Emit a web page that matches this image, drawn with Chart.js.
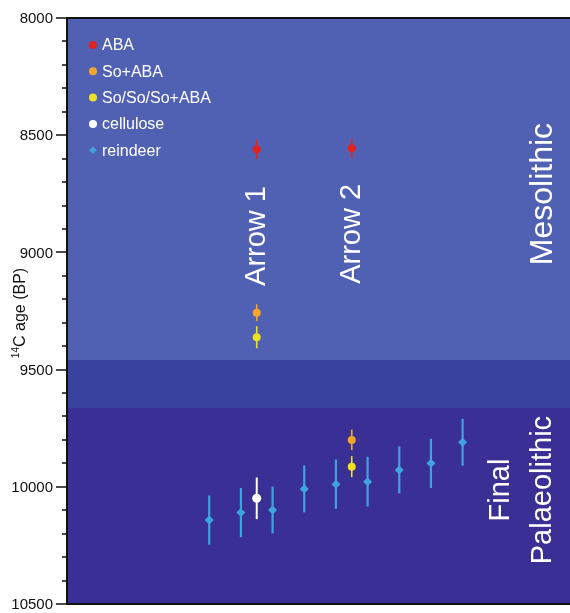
<!DOCTYPE html>
<html>
<head>
<meta charset="utf-8">
<script src="https://cdn.jsdelivr.net/npm/chart.js@4.4.1/dist/chart.umd.min.js"></script>
<style>
    html, body { margin: 0; padding: 0; background: #ffffff; }
</style>
</head>
<body>
<canvas id="ageChart" width="570" height="613"></canvas>
<script>
// ===== DATA =====
// x = position along the sequence, age = 14C age (BP), err = 1 sigma
const abaX = [2.5, 5.5];
const abaAge = [8560, 8556];
const abaErr = [41, 41];

const soAbaX = [2.5, 5.5];
const soAbaAge = [9257, 9800];
const soAbaErr = [36, 44];

const soSoX = [2.5, 5.5];
const soSoAge = [9362, 9914];
const soSoErr = [47, 45];

const celluloseX = [2.5];
const celluloseAge = [10049];
const celluloseErr = [89];

const reindeerX = [1, 2, 3, 4, 5, 6, 7, 8, 9];
const reindeerAge = [10142, 10110, 10099, 10009, 9989, 9978, 9928, 9900, 9810];
const reindeerErr = [105, 105, 100, 100, 105, 106, 100, 105, 100];

// axis tick labels
const yTickLabels = [8000, 8500, 9000, 9500, 10000, 10500];

// period boundaries on the age axis
const bandEdges = [8000, 9460, 9665, 10500];
const bandColors = ["#5061b3", "#39439f", "#392f94"];

const yMin = 8000;
const yMax = 10500;

const FONT = '"Liberation Sans", Arial, Helvetica, sans-serif';

function pts(xs, ys) {
    return xs.map((x, i) => ({ x: x, y: ys[i] }));
}

const datasets = [
    { label: "ABA", data: pts(abaX, abaAge), errors: abaErr, color: "#e3221f", pointStyle: "circle", pointRadius: 4, barWidth: 1.6 },
    { label: "So+ABA", data: pts(soAbaX, soAbaAge), errors: soAbaErr, color: "#f5a62a", pointStyle: "circle", pointRadius: 4, barWidth: 1.6 },
    { label: "So/So/So+ABA", data: pts(soSoX, soSoAge), errors: soSoErr, color: "#ece21f", pointStyle: "circle", pointRadius: 4, barWidth: 1.6 },
    { label: "cellulose", data: pts(celluloseX, celluloseAge), errors: celluloseErr, color: "#ffffff", pointStyle: "circle", pointRadius: 4.5, barWidth: 2 },
    { label: "reindeer", data: pts(reindeerX, reindeerAge), errors: reindeerErr, color: "#3fa4dc", pointStyle: "rectRot", pointRadius: 4.5, barWidth: 2.2 }
].map(d => Object.assign(d, {
    backgroundColor: d.color,
    borderColor: d.color,
    borderWidth: 0,
    pointHoverRadius: d.pointRadius
}));

// ===== BACKGROUND BANDS =====
const bandsPlugin = {
    id: "bands",
    beforeDatasetsDraw(chart) {
        const { ctx, chartArea: a, scales: { y } } = chart;
        ctx.save();
        for (let i = 0; i < bandColors.length; i++) {
            const top = Math.round(y.getPixelForValue(bandEdges[i]));
            const bottom = Math.round(y.getPixelForValue(bandEdges[i + 1]));
            ctx.fillStyle = bandColors[i];
            ctx.fillRect(a.left, top, a.right - a.left, bottom - top);
        }
        ctx.restore();
    }
};

// ===== ERROR BARS =====
const errorBarsPlugin = {
    id: "errorBars",
    beforeDatasetsDraw(chart) {
        const { ctx, scales: { x, y } } = chart;
        ctx.save();
        chart.data.datasets.forEach(ds => {
            ctx.strokeStyle = ds.color;
            ctx.lineWidth = ds.barWidth;
            ds.data.forEach((p, i) => {
                const px = x.getPixelForValue(p.x);
                ctx.beginPath();
                ctx.moveTo(px, y.getPixelForValue(p.y - ds.errors[i]));
                ctx.lineTo(px, y.getPixelForValue(p.y + ds.errors[i]));
                ctx.stroke();
            });
        });
        ctx.restore();
    }
};

// ===== TEXT, LEGEND, FRAME =====
function rotatedText(ctx, lines, cx, cy, size, gap) {
    ctx.save();
    ctx.translate(cx, cy);
    ctx.rotate(-Math.PI / 2);
    ctx.font = size + "px " + FONT;
    ctx.fillStyle = "#ffffff";
    ctx.textAlign = "center";
    ctx.textBaseline = "middle";
    const offset = (lines.length - 1) * gap / 2;
    lines.forEach((t, i) => ctx.fillText(t, 0, i * gap - offset));
    ctx.restore();
}

const overlayPlugin = {
    id: "overlay",
    afterDatasetsDraw(chart) {
        const { ctx, chartArea: a, scales: { x, y } } = chart;

        // labels inside the plot
        rotatedText(ctx, ["Arrow 1"], x.getPixelForValue(2.5), y.getPixelForValue(8930), 29, 0);
        rotatedText(ctx, ["Arrow 2"], x.getPixelForValue(5.5), y.getPixelForValue(8921), 29, 0);
        rotatedText(ctx, ["Mesolithic"], x.getPixelForValue(11.54), y.getPixelForValue(8751), 32, 0);
        rotatedText(ctx, ["Final", "Palaeolithic"], x.getPixelForValue(10.87), y.getPixelForValue(10014), 29, 42);

        // legend
        ctx.save();
        ctx.font = "16px " + FONT;
        ctx.textBaseline = "middle";
        chart.data.datasets.forEach((ds, i) => {
            const ly = a.top + 27 + i * 26.3;
            const lx = a.left + 26;
            ctx.fillStyle = ds.color;
            ctx.beginPath();
            if (ds.pointStyle === "rectRot") {
                ctx.moveTo(lx, ly - 3.8);
                ctx.lineTo(lx + 3.8, ly);
                ctx.lineTo(lx, ly + 3.8);
                ctx.lineTo(lx - 3.8, ly);
                ctx.closePath();
            } else {
                ctx.arc(lx, ly, 4, 0, Math.PI * 2);
            }
            ctx.fill();
            ctx.fillStyle = "#ffffff";
            ctx.fillText(ds.label, lx + 9, ly + 1);
        });
        ctx.restore();

        // frame, ticks and tick labels
        ctx.save();
        ctx.strokeStyle = "#111111";
        ctx.lineWidth = 2;
        ctx.beginPath();
        ctx.moveTo(a.right, a.top);
        ctx.lineTo(a.left, a.top);
        ctx.lineTo(a.left, a.bottom);
        ctx.lineTo(a.right, a.bottom);
        ctx.stroke();
        ctx.lineWidth = 1.5;
        for (let v = yMin; v <= yMax; v += 100) {
            const py = Math.round(y.getPixelForValue(v));
            const len = v % 500 === 0 ? 11 : 5;
            ctx.beginPath();
            ctx.moveTo(a.left - len, py);
            ctx.lineTo(a.left, py);
            ctx.stroke();
        }
        ctx.fillStyle = "#111111";
        ctx.font = "15px " + FONT;
        ctx.textAlign = "right";
        ctx.textBaseline = "middle";
        yTickLabels.forEach(v => {
            ctx.fillText(String(v), a.left - 14, y.getPixelForValue(v) + 1);
        });
        ctx.restore();

        // y title with superscript
        ctx.save();
        ctx.translate(25, 313);
        ctx.rotate(-Math.PI / 2);
        ctx.fillStyle = "#111111";
        ctx.textBaseline = "alphabetic";
        ctx.textAlign = "left";
        ctx.font = "10px " + FONT;
        const supW = ctx.measureText("14").width;
        ctx.font = "16px " + FONT;
        const mainW = ctx.measureText("C age (BP)").width;
        const start = -(supW + mainW) / 2;
        ctx.font = "10px " + FONT;
        ctx.fillText("14", start, -6);
        ctx.font = "16px " + FONT;
        ctx.fillText("C age (BP)", start + supW, 0);
        ctx.restore();
    }
};

// ===== CHART =====
new Chart(document.getElementById("ageChart"), {
    type: "scatter",
    data: { datasets: datasets },
    options: {
        responsive: false,
        devicePixelRatio: 1,
        animation: false,
        layout: { autoPadding: false, padding: { top: 18, bottom: 9, left: 0, right: 0 } },
        plugins: {
            legend: { display: false },
            tooltip: { enabled: false }
        },
        scales: {
            x: {
                type: "linear",
                display: false,
                min: -3.49,
                max: 12.39
            },
            y: {
                type: "linear",
                reverse: true,
                min: yMin,
                max: yMax,
                afterFit(scale) { scale.width = 67; },
                border: { display: false },
                grid: { display: false, drawTicks: false },
                ticks: { display: false, stepSize: 100 }
            }
        }
    },
    plugins: [bandsPlugin, errorBarsPlugin, overlayPlugin]
});
</script>
</body>
</html>
